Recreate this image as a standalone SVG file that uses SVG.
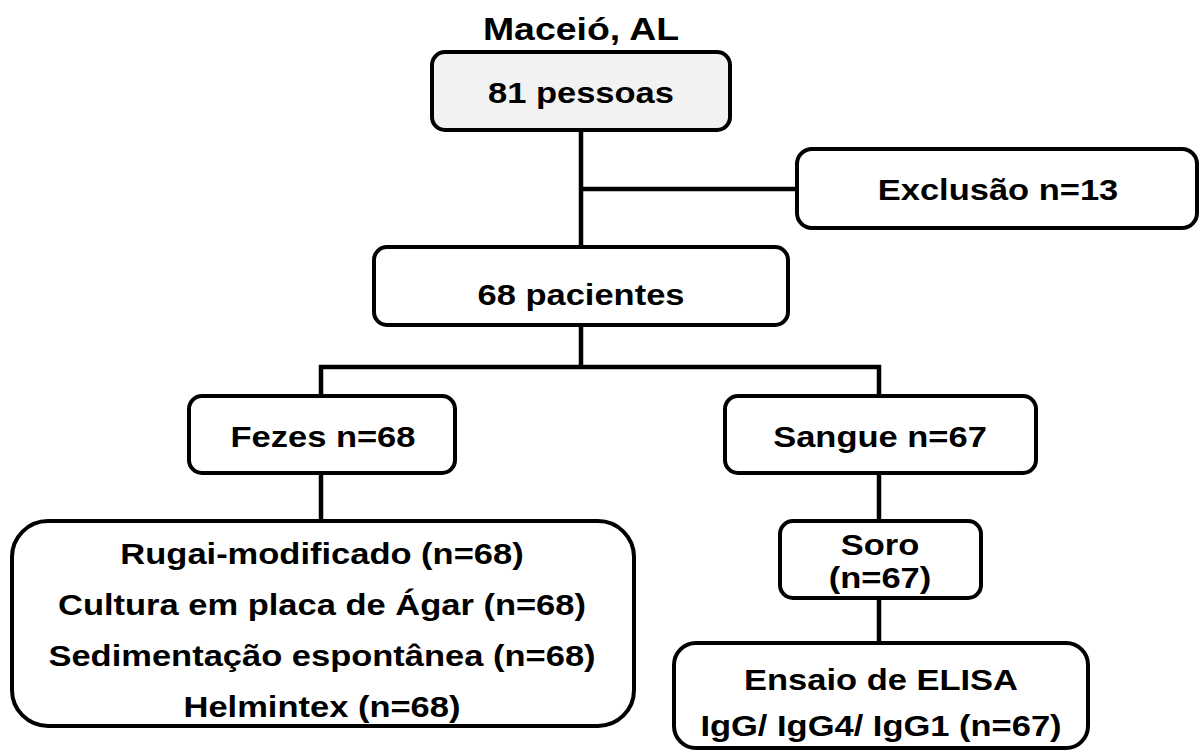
<svg xmlns="http://www.w3.org/2000/svg" width="1200" height="753" viewBox="0 0 1200 753">
<style>
  .box { fill: #ffffff; stroke: #000000; stroke-width: 4; }
  .gray { fill: #f2f2f2; }
  .conn { fill: none; stroke: #000000; stroke-width: 4.5; }
  .t { font-family: "Liberation Sans", Arial, sans-serif; font-weight: bold; font-size: 30px; fill: #000000; text-anchor: middle; transform-box: fill-box; transform-origin: center; transform: scaleX(1.15); }
  .title { font-size: 32px; transform: scaleX(1.17); }
</style>
<rect width="1200" height="753" fill="#ffffff"/>
<g id="connectors">
  <path class="conn" d="M581,130 V247"/>
  <path class="conn" d="M581,189 H797"/>
  <path class="conn" d="M581,325 V367"/>
  <path class="conn" d="M319,367 H881"/>
  <path class="conn" d="M321,365 V396"/>
  <path class="conn" d="M879,365 V396"/>
  <path class="conn" d="M321,473 V521"/>
  <path class="conn" d="M879,473 V521"/>
  <path class="conn" d="M879,598 V643"/>
</g>
<g id="title">
  <text class="t title" x="581" y="40">Maceió, AL</text>
</g>
<g id="node-pessoas">
  <rect class="box gray" x="432" y="52" width="298" height="78" rx="13"/>
  <text class="t" x="581" y="103">81 pessoas</text>
</g>
<g id="node-exclusao">
  <rect class="box" x="797" y="149" width="400" height="79" rx="15"/>
  <text class="t" x="998" y="200">Exclusão n=13</text>
</g>
<g id="node-pacientes">
  <rect class="box" x="374" y="247" width="414" height="78" rx="13"/>
  <text class="t" x="581" y="305">68 pacientes</text>
</g>
<g id="node-fezes">
  <rect class="box" x="189" y="396" width="266" height="77" rx="13"/>
  <text class="t" x="323" y="447">Fezes n=68</text>
</g>
<g id="node-sangue">
  <rect class="box" x="725" y="396" width="311" height="77" rx="13"/>
  <text class="t" x="880" y="447">Sangue n=67</text>
</g>
<g id="node-metodos">
  <rect class="box" x="12" y="521" width="622" height="205" rx="36"/>
  <text class="t" x="322" y="564">Rugai-modificado (n=68)</text>
  <text class="t" x="322" y="615">Cultura em placa de Ágar (n=68)</text>
  <text class="t" x="322" y="666">Sedimentação espontânea (n=68)</text>
  <text class="t" x="322" y="717">Helmintex (n=68)</text>
</g>
<g id="node-soro">
  <rect class="box" x="780" y="521" width="201" height="77" rx="13"/>
  <text class="t" x="880" y="555">Soro</text>
  <text class="t" x="880" y="588">(n=67)</text>
</g>
<g id="node-elisa">
  <rect class="box" x="674" y="643" width="414" height="105" rx="22"/>
  <text class="t" x="881" y="690">Ensaio de ELISA</text>
  <text class="t" x="881" y="736">IgG/ IgG4/ IgG1 (n=67)</text>
</g>
</svg>
